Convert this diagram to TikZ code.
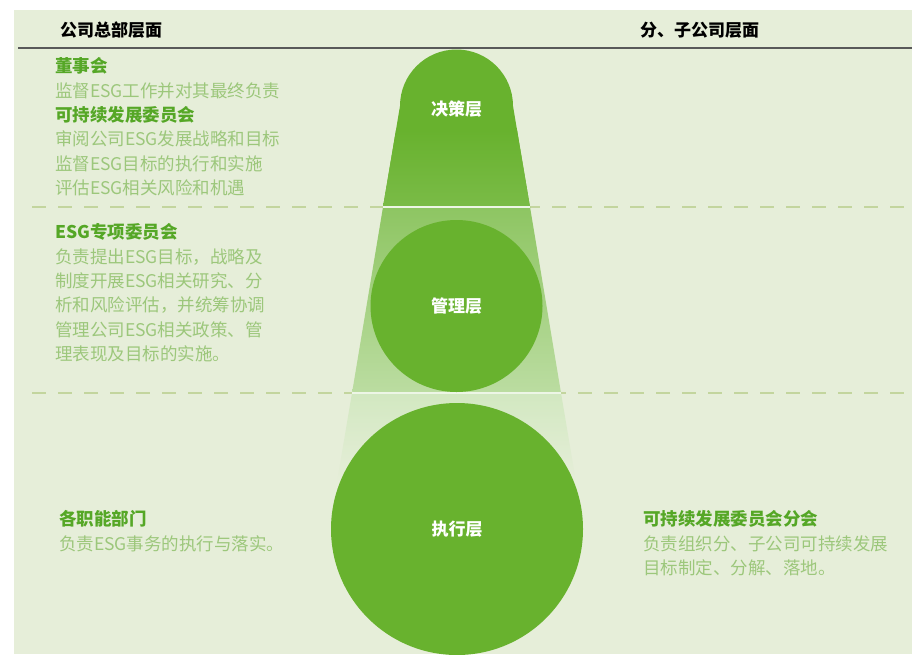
\documentclass[tikz,border=0pt]{standalone}
\usepackage{fontspec}
\setmainfont{Noto Sans CJK SC}
\definecolor{bgc}{HTML}{E6EED9}
\definecolor{dkg}{HTML}{68B22E}
\definecolor{hdg}{HTML}{55A726}
\definecolor{txg}{HTML}{9CC77B}
\definecolor{dsh}{HTML}{C3D59E}
\tikzset{
    layer/.style={circle, fill=dkg, text=white, inner sep=0pt,
                  font=\bfseries\fontsize{17}{20}\selectfont},
    colhead/.style={anchor=west, inner sep=0pt, font=\bfseries\fontsize{17}{20}\selectfont},
    blk/.style={anchor=north west, inner sep=0pt, align=left, text=txg,
                font=\fontsize{17.5}{24.3}\selectfont},
    sep/.style={dsh, line width=1.5pt, dash pattern=on 14pt off 12pt},
    }
\newcommand{\hd}[1]{{\color{hdg}\bfseries #1}}

\begin{document}
\begin{tikzpicture}[x=1pt, y=-1pt]
            \useasboundingbox (0,0) rectangle (912,654);
            \fill[bgc] (14,10) rectangle (912,654);

            \node[colhead] (hq) at (60,30) {公司总部层面};
            \node[colhead] (sub) at (640,30) {分、子公司层面};
            \draw[black!65, line width=1.5pt] (18,48) -- (912,48);

            \draw[sep] (32,207) -- (912,207);
            \draw[sep] (32,393) -- (912,393);

            \fill[dkg] (400,106) -- (513,106) -- (530,207) -- (383,207) -- cycle;
            \node[layer, minimum size=113pt] (jcc) at (456.5,106) {};
            \shade[top color=dkg, bottom color=dkg!88!white] (396,130) -- (517,130) -- (530,207) -- (383,207) -- cycle;
            \shade[top color=dkg!75!white, bottom color=dkg!45!white] (383,207) -- (530,207) -- (561,393) -- (352,393) -- cycle;
            \shade[top color=dkg!30!white, bottom color=bgc] (352,393) -- (561,393) -- (576,482) -- (337,482) -- cycle;
            \draw[white!60!dkg!30, line width=1.2pt] (383,207) -- (530,207);
            \draw[white!60!dkg!30, line width=1.2pt] (352,393) -- (561,393);

            \node[text=white, font=\bfseries\fontsize{17}{20}\selectfont] (jc) at (456.5,109) {决策层};
            \node[layer, minimum size=172pt] (glc) at (456.5,306) {管理层};
            \node[layer, minimum size=252pt] (zxc) at (457,529) {执行层};

            \node[blk] (dsh) at (55,57.5) {\hd{董事会}\\监督ESG工作并对其最终负责\\\hd{可持续发展委员会}\\审阅公司ESG发展战略和目标\\监督ESG目标的执行和实施\\评估ESG相关风险和机遇};
            \node[blk] (esg) at (55,223.5) {\hd{ESG专项委员会}\\负责提出ESG目标，战略及\\制度开展ESG相关研究、分\\析和风险评估，并统筹协调\\管理公司ESG相关政策、管\\理表现及目标的实施。};
            \node[blk] (bm) at (59,510.5) {\hd{各职能部门}\\负责ESG事务的执行与落实。};
            \node[blk] (fh) at (643,510.5) {\hd{可持续发展委员会分会}\\负责组织分、子公司可持续发展\\目标制定、分解、落地。};
        \end{tikzpicture}
\end{document}
